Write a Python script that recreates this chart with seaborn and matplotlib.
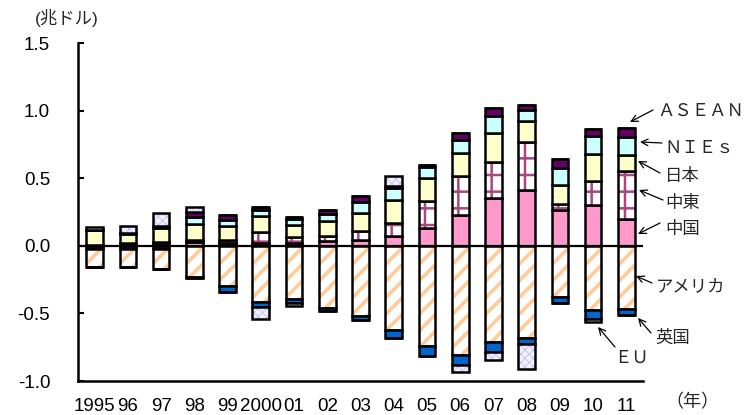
import numpy as np
import pandas as pd
import matplotlib
matplotlib.use("Agg")
import matplotlib.pyplot as plt
import seaborn as sns

# Current-account balances by economy (trillion US$)
years = ["1995", "96", "97", "98", "99", "2000", "01", "02", "03", "04",
         "05", "06", "07", "08", "09", "10", "11"]

china   = [0.005, 0.02, 0.02, 0.03, 0.02, 0.02, 0.02, 0.035, 0.045, 0.07,
           0.13, 0.23, 0.35, 0.41, 0.265, 0.30, 0.20]
mideast = [0.0, 0.0, 0.01, 0.01, 0.02, 0.08, 0.045, 0.035, 0.065, 0.095,
           0.205, 0.285, 0.27, 0.355, 0.045, 0.18, 0.35]
japan   = [0.11, 0.065, 0.10, 0.12, 0.105, 0.12, 0.09, 0.11, 0.135, 0.175,
           0.17, 0.17, 0.215, 0.155, 0.14, 0.20, 0.125]
nies    = [0.005, 0.01, 0.02, 0.055, 0.045, 0.045, 0.04, 0.055, 0.08, 0.085,
           0.08, 0.10, 0.125, 0.085, 0.125, 0.135, 0.13]
asean   = [-0.025, -0.025, -0.025, 0.035, 0.035, 0.02, 0.02, 0.03, 0.04, 0.02,
           0.01, 0.05, 0.06, 0.035, 0.07, 0.05, 0.065]
eu      = [0.02, 0.055, 0.09, 0.035, 0.0, -0.085, -0.02, 0.0, 0.0, 0.07,
           0.0, -0.045, -0.06, -0.185, 0.0, -0.02, 0.0]
usa     = [-0.13, -0.135, -0.145, -0.23, -0.30, -0.415, -0.395, -0.46, -0.52, -0.625,
           -0.74, -0.805, -0.71, -0.685, -0.375, -0.475, -0.47]
uk      = [-0.005, 0.0, 0.0, -0.01, -0.04, -0.04, -0.03, -0.02, -0.03, -0.055,
           -0.075, -0.08, -0.075, -0.04, -0.05, -0.07, -0.045]

series = {"中国": china, "中東": mideast, "日本": japan, "NIEs": nies,
          "ASEAN": asean, "EU": eu, "アメリカ": usa, "英国": uk}

# fill colour, hatch, hatch colour, hatch line width
styles = {
    "中国":     ("#FF99CC", None, "#FF99CC", 1.0),
    "中東":     ("#FFFFFF", "+", "#A8487F", 1.8),
    "日本":     ("#FFFFCC", None, "#FFFFCC", 1.0),
    "NIEs":     ("#CCFFFF", None, "#CCFFFF", 1.0),
    "ASEAN":    ("#660066", None, "#660066", 1.0),
    "EU":       ("#F0F0FF", "xxxx", "#C0C0F0", 0.6),
    "アメリカ": ("#FFFFFF", "//", "#FFCC99", 2.6),
    "英国":     ("#0066CC", None, "#0066CC", 1.0),
}

pos_order = ["中国", "中東", "日本", "NIEs", "ASEAN", "EU"]
neg_order = ["ASEAN", "中東", "アメリカ", "英国", "EU"]

sns.set_style("white")
plt.rcParams["font.family"] = ["Liberation Sans", "Noto Sans CJK JP", "DejaVu Sans"]

fig = plt.figure(figsize=(7.48, 4.15), dpi=100)
ax = fig.add_axes([78 / 748, 1 - 381 / 415, (643 - 78) / 748, (381 - 43) / 415])

BAR_W = 0.5
EDGE_W = 1.8


def draw_segment(name, heights, bottoms):
    face, hatch, hcol, hlw = styles[name]
    before = len(ax.patches)
    with plt.rc_context({"hatch.linewidth": hlw}):
        sns.barplot(x=years, y=heights, order=years, bottom=bottoms, ax=ax,
                    color=face, saturation=1, width=BAR_W, errorbar=None,
                    hatch=hatch, edgecolor=hcol, linewidth=0)
    for p in ax.patches[before:]:
        p.set_facecolor(face)
        p.set_edgecolor(hcol)
        p.set_linewidth(0)
        if hasattr(p, "set_hatch_linewidth"):
            p.set_hatch_linewidth(hlw)
    # black outline of each segment
    sns.barplot(x=years, y=heights, order=years, bottom=bottoms, ax=ax,
                color="black", saturation=1, width=BAR_W, errorbar=None,
                fill=False, linewidth=EDGE_W)
    for p in ax.patches[before + len(years):]:
        p.set_facecolor("none")
        p.set_edgecolor("black")
        p.set_linewidth(EDGE_W)


pos_base = np.zeros(len(years))
for name in pos_order:
    v = np.array(series[name], dtype=float)
    h = np.where(v > 0, v, 0.0)
    if h.any():
        draw_segment(name, h, pos_base.copy())
    pos_base += h

neg_base = np.zeros(len(years))
for name in neg_order:
    v = np.array(series[name], dtype=float)
    h = np.where(v < 0, v, 0.0)
    if h.any():
        draw_segment(name, h, neg_base.copy())
    neg_base += h

ax.axhline(0, color="black", lw=1.6, zorder=5)

ax.set_xlim(-0.5, len(years) - 0.5)
ax.set_ylim(-1.0, 1.5)
ax.set_yticks([1.5, 1.0, 0.5, 0.0, -0.5, -1.0])
ax.set_yticklabels(["1.5", "1.0", "0.5", "0.0", "-0.5", "-1.0"])
ax.set_xticks(range(len(years)))
ax.set_xticklabels(years)
ax.set_xlabel("")
ax.set_ylabel("")

for side in ["top", "right"]:
    ax.spines[side].set_visible(False)
for side in ["left", "bottom"]:
    ax.spines[side].set_color("black")
    ax.spines[side].set_linewidth(1.8)

ax.tick_params(axis="y", direction="in", length=4, width=1.5, pad=20,
               labelsize=13.5, colors="black", left=True)
ax.tick_params(axis="x", length=0, pad=12.5, labelsize=13.5, colors="black")

fig.text(35 / 748, 1 - 18 / 415, "(兆ドル)", fontsize=12.5, ha="left", va="center")
fig.text(692 / 748, 1 - 403 / 415, "（年）", fontsize=13, ha="center", va="center")

# labels with arrows pointing to the 2011 bar
labels = [
    ("ＡＳＥＡＮ", (657, 111), (653, 110), (630, 122)),
    ("ＮＩＥｓ", (664, 148), (662, 143), (640, 142)),
    ("日本", (665, 176), (660, 173), (638, 161)),
    ("中東", (665, 203), (663, 200), (639, 190)),
    ("中国", (665, 229), (660, 223), (638, 234)),
    ("アメリカ", (656, 287), (652, 283), (636, 276)),
    ("英国", (655, 338), (651, 333), (638, 318)),
    ("ＥＵ", (614, 358), (615, 347), (598, 327)),
]
for text, (tx, ty), (sx, sy), (ex, ey) in labels:
    fig.text(tx / 748, 1 - ty / 415, text, fontsize=12.5, ha="left", va="center")
    ax.annotate("", xy=(ex, 415 - ey), xycoords="figure pixels",
                xytext=(sx, 415 - sy), textcoords="figure pixels",
                arrowprops=dict(arrowstyle="->", color="black", lw=0.9,
                                shrinkA=0, shrinkB=0, mutation_scale=12))

fig.savefig("out.png", dpi=100)
